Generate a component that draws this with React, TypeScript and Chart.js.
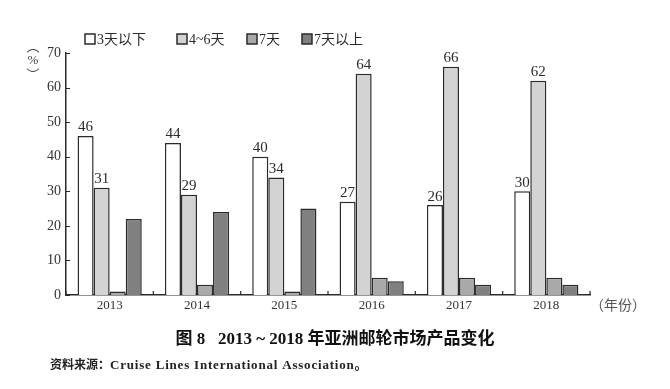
import React, { useEffect, useRef } from "react";
import { Chart, registerables } from "chart.js";

Chart.register(...registerables);

const years = ["2013", "2014", "2015", "2016", "2017", "2018"];
const seriesNames = ["3天以下", "4~6天", "7天", "7天以上"];
const under3 = [46, 44, 40, 27, 26, 30];
const days4to6 = [31, 29, 34, 64, 66, 62];
const days7 = [1, 3, 1, 5, 5, 5];
const over7 = [22, 24, 25, 4, 3, 3];
const yTicks = [0, 10, 20, 30, 40, 50, 60, 70];
const labelledSeries = [0, 1];
const fillColors = ["#ffffff", "#d3d3d3", "#a9a9a9", "#808080"];

const titleText = "图 8   2013 ~ 2018 年亚洲邮轮市场产品变化";
const sourceLead = "资料来源：";
const sourceBody = "Cruise Lines International Association。";

const SERIF = "'Liberation Serif', 'Noto Sans CJK SC', serif";
const INK = "#2b2b2b";

const decorPlugin = {
  id: "decor",
  afterDraw(chart: any) {
    const ctx = chart.ctx;
    const y = chart.scales.y;
    const area = chart.chartArea;
    ctx.save();

    // inward ticks
    ctx.strokeStyle = INK;
    ctx.lineWidth = 1.2;
    ctx.beginPath();
    yTicks.forEach((t) => {
      const py = Math.round(y.getPixelForValue(t)) + 0.5;
      ctx.moveTo(area.left, py);
      ctx.lineTo(area.left + 4, py);
    });
    const n = years.length;
    for (let i = 0; i <= n; i++) {
      const px = area.left + ((area.right - area.left) * i) / n;
      ctx.moveTo(px, area.bottom);
      ctx.lineTo(px, area.bottom - 4);
    }
    ctx.stroke();

    // data labels
    ctx.fillStyle = INK;
    ctx.font = "15px " + SERIF;
    ctx.textAlign = "center";
    ctx.textBaseline = "bottom";
    labelledSeries.forEach((di) => {
      const meta = chart.getDatasetMeta(di);
      meta.data.forEach((bar: any, j: number) => {
        const v = chart.data.datasets[di].data[j];
        ctx.fillText(String(v), bar.x, bar.y - 1);
      });
    });

    // legend
    const legendX = [85, 177, 247, 302];
    const ly = 39;
    ctx.textAlign = "left";
    ctx.textBaseline = "middle";
    ctx.font = "14px " + SERIF;
    chart.data.datasets.forEach((ds: any, i: number) => {
      const lx = legendX[i];
      ctx.fillStyle = ds.backgroundColor;
      ctx.fillRect(lx, ly - 5, 10, 10);
      ctx.strokeStyle = INK;
      ctx.lineWidth = 1.5;
      ctx.strokeRect(lx, ly - 5, 10, 10);
      ctx.fillStyle = INK;
      ctx.fillText(ds.label, lx + 12, ly + 1);
    });

    // y unit (vertical)
    ctx.textAlign = "center";
    ctx.fillStyle = "#444";
    ctx.font = "13px 'Noto Sans CJK SC', sans-serif";
    ctx.fillText("︵", 33, 46);
    ctx.font = "13px " + SERIF;
    ctx.fillText("%", 33, 61);
    ctx.font = "13px 'Noto Sans CJK SC', sans-serif";
    ctx.fillText("︶", 33, 74);

    // x unit
    ctx.textAlign = "left";
    ctx.font = "14px 'Noto Sans CJK SC', sans-serif";
    ctx.fillStyle = "#555";
    ctx.fillText("（年份）", 590, 305);

    // title
    ctx.fillStyle = "#111";
    ctx.textAlign = "center";
    ctx.font = "bold 17px " + SERIF;
    ctx.fillText(titleText, 335, 340);

    // source
    ctx.textAlign = "left";
    ctx.font = "bold 12px " + SERIF;
    ctx.fillStyle = "#222";
    ctx.fillText(sourceLead, 50, 366);
    const leadW = ctx.measureText(sourceLead).width;
    ctx.font = "bold 13px " + SERIF;
    (ctx as any).letterSpacing = "0.8px";
    ctx.fillText(sourceBody, 50 + leadW, 366);
    (ctx as any).letterSpacing = "0px";

    ctx.restore();
  },
};

export default function App() {
  const ref = useRef<HTMLCanvasElement | null>(null);
  useEffect(() => {
    if (!ref.current) return;
    const seriesData = [under3, days4to6, days7, over7];
    const chart = new Chart(ref.current, {
      type: "bar",
      data: {
        labels: years,
        datasets: seriesNames.map((name, i) => ({
          label: name,
          data: seriesData[i],
          backgroundColor: fillColors[i],
          borderColor: INK,
          borderWidth: 1.5,
          categoryPercentage: 0.735,
          barPercentage: 1,
        })),
      },
      options: {
        animation: false,
        responsive: false,
        maintainAspectRatio: false,
        layout: { padding: { left: 0, right: 80, top: 53, bottom: 74 } },
        plugins: {
          legend: { display: false },
          tooltip: { enabled: false },
          title: { display: false },
        },
        scales: {
          x: {
            grid: { display: false, drawTicks: false },
            border: { display: true, color: INK, width: 1.5 },
            ticks: {
              color: "#333",
              font: { family: SERIF, size: 13 },
              padding: 3,
            },
            afterFit: (s: any) => {
              s.height = 20;
            },
          },
          y: {
            min: 0,
            max: 70,
            grid: { display: false, drawTicks: false },
            border: { display: true, color: INK, width: 1.5 },
            ticks: {
              stepSize: 10,
              color: "#333",
              font: { family: SERIF, size: 14 },
              padding: 5,
            },
            afterFit: (s: any) => {
              s.width = 66;
            },
          },
        },
      },
      plugins: [decorPlugin],
    });
    return () => chart.destroy();
  }, []);
  return (
    <div style={{ position: "absolute", left: 0, top: 0, width: 670, height: 389, background: "#fff" }}>
      <canvas ref={ref} width={670} height={389} style={{ width: 670, height: 389 }} />
    </div>
  );
}
